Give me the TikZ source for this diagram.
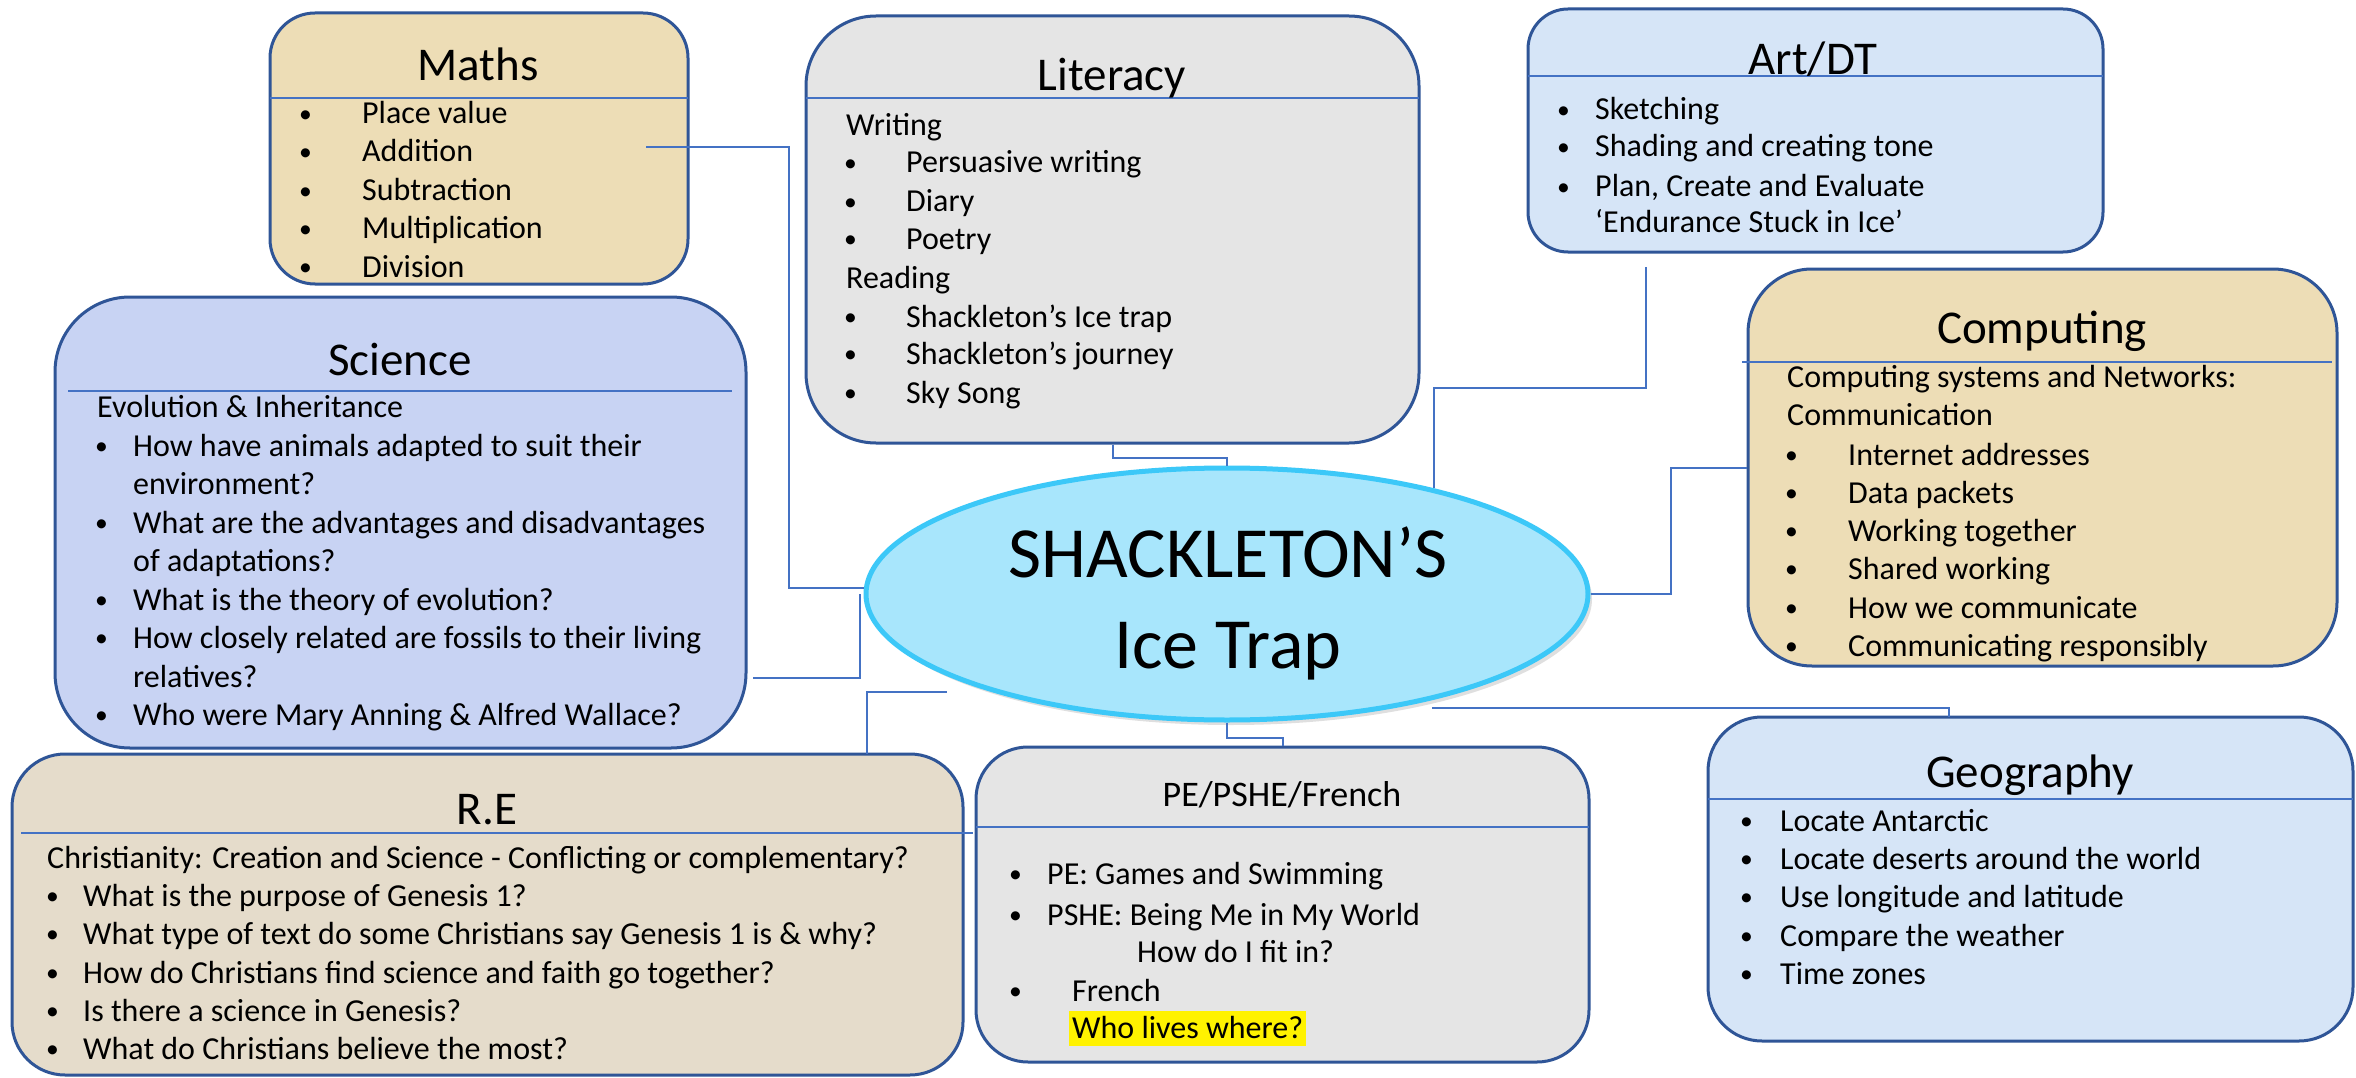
\documentclass[tikz,border=0pt]{standalone}
\usepackage{fontspec}
\setmainfont{Carlito}
\usepackage{tikz}
\usetikzlibrary{fit}
\usetikzlibrary{shapes.geometric}
\usetikzlibrary{shadows}

\definecolor{parchment}{HTML}{EDDDB6}
\definecolor{granite}{HTML}{E5E5E5}
\definecolor{lavender}{HTML}{C8D3F3}
\definecolor{iceblue}{HTML}{D6E5F7}
\definecolor{sand}{HTML}{E5DCCB}
\definecolor{hubfill}{HTML}{A8E6FC}
\definecolor{hubline}{HTML}{3CC8F8}
\definecolor{boxline}{HTML}{2F5597}
\definecolor{linkblue}{HTML}{4472C4}

\newcommand{\dotmark}{\raisebox{1.5pt}{\scalebox{0.8}{\textbullet}}}

\begin{document}
\begin{tikzpicture}[x=1pt, y=-1pt,
    subject/.style={draw=boxline, line width=3pt, inner sep=0pt},
    heading/.style={anchor=base, inner sep=0pt, font=\fontsize{47}{56}\selectfont},
    body/.style={anchor=base west, inner sep=0pt, font=\fontsize{32}{38}\selectfont},
    rule/.style={draw=linkblue, line width=2pt},
    link/.style={draw=linkblue, line width=2pt}]
              \useasboundingbox[fill=white] (0,0) rectangle (2356,1078);
              \newcommand{\subjectbox}[5]
              {%
                \node[subject, fill=#2, rounded corners=#5, fit={#3 #4}] (#1) {};%
              }%
              \newcommand{\bitem}[5]
              {%
                \node[body] (#1) at (#2, #4) {\makebox[\dimexpr#3pt-#2pt\relax][l]{\dotmark}#5};%
              }%
              \newcommand{\pitem}[4]
              {%
                \node[body] (#1) at (#2, #3) {#4};%
              }%
              % boxes
              \subjectbox{maths}{parchment}{(270,13)}{(688,284)}{45pt}
              \subjectbox{literacy}{granite}{(806,16)}{(1419,443)}{70pt}
              \subjectbox{art}{iceblue}{(1528,9)}{(2103,252)}{40pt}
              \subjectbox{science}{lavender}{(55,297)}{(746,748)}{75pt}
              \subjectbox{computing}{parchment}{(1748,269)}{(2337,666)}{64pt}
              \subjectbox{re}{sand}{(12,754)}{(963,1075)}{53pt}
              \subjectbox{pe}{granite}{(976,747)}{(1589,1062)}{52pt}
              \subjectbox{geography}{iceblue}{(1708,717)}{(2353,1041)}{54pt}
              \draw[rule] (270,98) -- (688,98);
              \draw[rule] (806,98) -- (1419,98);
              \draw[rule] (1528,76) -- (2103,76);
              \draw[rule] (68,391) -- (732,391);
              \draw[rule] (1742,362) -- (2332,362);
              \draw[rule] (21,833) -- (973,833);
              \draw[rule] (976,827) -- (1589,827);
              \draw[rule] (1708,799) -- (2353,799);
              % headings
              \node[heading] (maths-head) at (478,81) {Maths};
              \node[heading] (literacy-head) at (1112,91) {Literacy};
              \node[heading] (art-head) at (1813,75) {Art/DT};
              \node[heading] (science-head) at (400,375) {Science};
              \node[heading] (computing-head) at (2042,343) {Computing};
              \node[heading] (re-head) at (487,824) {R.E};
              \node[heading, font=\fontsize{36}{43}\selectfont] (pe-head) at (1282,806) {PE/PSHE/French};
              \node[heading] (geography-head) at (2030,787) {Geography};
              % maths
              \bitem{maths-1}{299}{362}{124}{Place value}
              \bitem{maths-2}{299}{362}{162}{Addition}
              \bitem{maths-3}{299}{362}{201}{Subtraction}
              \bitem{maths-4}{299}{362}{239}{Multiplication}
              \bitem{maths-5}{299}{362}{277}{Division}
              % literacy
              \pitem{literacy-1}{846}{136}{Writing}
              \bitem{literacy-2}{844}{906}{173}{Persuasive writing}
              \bitem{literacy-3}{844}{906}{212}{Diary}
              \bitem{literacy-4}{844}{906}{249}{Poetry}
              \pitem{literacy-5}{846}{288}{Reading}
              \bitem{literacy-6}{844}{906}{327}{Shackleton’s Ice trap}
              \bitem{literacy-7}{844}{906}{364}{Shackleton's journey}
              \bitem{literacy-8}{844}{906}{403}{Sky Song}
              % art
              \bitem{art-1}{1557}{1595}{120}{Sketching}
              \bitem{art-2}{1557}{1595}{157}{Shading and creating tone}
              \bitem{art-3}{1557}{1595}{197}{Plan, Create and Evaluate}
              \pitem{art-4}{1595}{233}{‘Endurance Stuck in Ice’}
              % science
              \pitem{science-1}{97}{417}{Evolution \& Inheritance}
              \bitem{science-2}{95}{133}{456}{How have animals adapted to suit their}
              \pitem{science-3}{133}{494}{environment?}
              \bitem{science-4}{95}{133}{533}{What are the advantages and disadvantages}
              \pitem{science-5}{133}{571}{of adaptations?}
              \bitem{science-6}{95}{133}{610}{What is the theory of evolution?}
              \bitem{science-7}{95}{133}{648}{How closely related are fossils to their living}
              \pitem{science-8}{133}{687}{relatives?}
              \bitem{science-9}{95}{133}{725}{Who were Mary Anning \& Alfred Wallace?}
              % computing
              \pitem{computing-1}{1787}{387}{Computing systems and Networks:}
              \pitem{computing-2}{1787}{425}{Communication}
              \bitem{computing-3}{1785}{1848}{465}{Internet addresses}
              \bitem{computing-4}{1785}{1848}{503}{Data packets}
              \bitem{computing-5}{1785}{1848}{541}{Working together}
              \bitem{computing-6}{1785}{1848}{579}{Shared working}
              \bitem{computing-7}{1785}{1848}{618}{How we communicate}
              \bitem{computing-8}{1785}{1848}{656}{Communicating responsibly}
              % r.e
              \pitem{re-1}{47}{868}{Christianity: Creation and Science - Conflicting or complementary?}
              \bitem{re-2}{46}{83}{906}{What is the purpose of Genesis 1?}
              \bitem{re-3}{46}{83}{944}{What type of text do some Christians say Genesis 1 is \& why?}
              \bitem{re-4}{46}{83}{983}{How do Christians find science and faith go together?}
              \bitem{re-5}{46}{83}{1021}{Is there a science in Genesis?}
              \bitem{re-6}{46}{83}{1059}{What do Christians believe the most?}
              % pe
              \bitem{pe-1}{1009}{1047}{884}{PE: Games and Swimming}
              \bitem{pe-2}{1009}{1047}{925}{PSHE: Being Me in My World}
              \pitem{pe-3}{1137}{962}{How do I fit in?}
              \bitem{pe-4}{1009}{1072}{1001}{French}
              \node[body, fill=yellow, inner xsep=3pt, text height=27pt, text depth=8pt] (pe-5) at (1069,1038) {Who lives where?};
              % geography
              \bitem{geography-1}{1740}{1780}{831}{Locate Antarctic}
              \bitem{geography-2}{1740}{1780}{869}{Locate deserts around the world}
              \bitem{geography-3}{1740}{1780}{907}{Use longitude and latitude}
              \bitem{geography-4}{1740}{1780}{946}{Compare the weather}
              \bitem{geography-5}{1740}{1780}{984}{Time zones}
              % centre
              \node[ellipse, draw=hubline, line width=5pt, fill=hubfill, inner sep=0pt,
                    minimum width=722pt, minimum height=252pt,
                    drop shadow={opacity=0.25, shadow xshift=4pt, shadow yshift=-5pt}] (hub) at (1227,594) {};
              \node[anchor=base, inner sep=0pt, font=\fontsize{72}{86}\selectfont] (hub-top) at (1228,577) {SHACKLETON’S};
              \node[anchor=base, inner sep=0pt, font=\fontsize{72}{86}\selectfont] (hub-bottom) at (1228,668) {Ice Trap};
              % links
              \coordinate (maths-out) at (646,147);
              \coordinate (science-out) at (753,678);
              \coordinate (re-in) at (867,754);
              \coordinate (re-out) at (947,692);
              \coordinate (art-out) at (1646,267);
              \coordinate (geography-out) at (1432,708);
              \coordinate (geography-in) at (1949,717);
              \draw[link] (maths-out) -- ++(143,0) |- ([yshift=6pt]hub.west);
              \draw[link] (science-out) -| ([xshift=-4pt]hub.west);
              \draw[link] (re-in) |- (re-out);
              \draw[link] (literacy.south) -- ++(0,13) -| (hub.north);
              \draw[link] (art-out) -- ++(0,121) -| (hub.27);
              \draw[link] (hub.east) -- ++(80,0) |- (computing.west);
              \draw[link] (hub.south) -- ++(0,15) -| (pe.north);
              \draw[link] (geography-out) -| (geography-in);
            \end{tikzpicture}
\end{document}
